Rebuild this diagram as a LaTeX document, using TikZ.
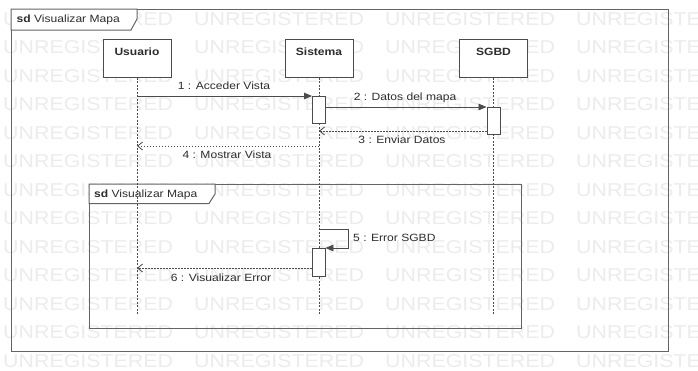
\documentclass[tikz,border=0pt]{standalone}
\usepackage{fontspec}
\setmainfont[FakeStretch=1.15]{Liberation Sans}
\usetikzlibrary{arrows.meta,calc}
\definecolor{frameln}{RGB}{100,100,100}
\definecolor{lineln}{RGB}{75,75,75}
\definecolor{txt}{RGB}{45,45,45}
\definecolor{wm}{RGB}{236,236,236}
\begin{document}
\begin{tikzpicture}[x=1pt,y=-1pt,
  lifebox/.style={draw=lineln, fill=white, line width=0.9pt, minimum width=68pt, minimum height=38pt, anchor=north, inner sep=0pt},
  actbox/.style={draw=lineln, fill=white, line width=0.9pt, minimum width=13pt, anchor=north, inner sep=0pt},
  lifeln/.style={draw=lineln, line width=0.6pt, dash pattern=on 2pt off 1.5pt},
  msg/.style={draw=lineln, line width=0.8pt, -{Triangle[length=8pt,width=6.5pt]}},
  ret/.style={draw=lineln, line width=0.8pt, dash pattern=on 1.5pt off 1.5pt, -{Straight Barb[length=5pt,width=8pt]}},
  lbl/.style={font=\fontsize{10.5}{12}\selectfont, text=txt, inner sep=0pt},
  namelbl/.style={font=\fontsize{10.5}{12}\selectfont\bfseries, text=txt, inner sep=0pt},
  framest/.style={draw=frameln, line width=1pt},
  tabst/.style={draw=frameln, fill=white, line width=1pt},
  wmtext/.style={font=\fontsize{18.6}{20}\selectfont, text=wm, anchor=west, inner sep=0pt}
]
\useasboundingbox (0,0) rectangle (698,370);
\fill[white] (0,0) rectangle (698,370);
% watermark
\begin{scope}
\clip (0,0) rectangle (698,370);
\foreach \r in {0,...,12}{
  \foreach \c in {0,...,3}{
    \node[wmtext] (wm-\r-\c) at ({3+191*\c},{19+28.5*\r}) {UNREGISTERED};
  }
}
\end{scope}
% outer frame
\draw[framest] (11,9) rectangle (668,351);
\draw[tabst] (11,9) -- (137,9) -- (137,19) -- (131,30) -- (11,30) -- cycle;
\node[lbl, anchor=west] (tab1) at (16.5,20) {\textbf{sd} Visualizar Mapa};
% inner frame
\draw[framest] (89,184) rectangle (521,328);
\draw[tabst] (89,184) -- (215,184) -- (215,194) -- (209,203.5) -- (89,203.5) -- cycle;
\node[lbl, anchor=west] (tab2) at (94,194.5) {\textbf{sd} Visualizar Mapa};
% lifelines
\coordinate (uend) at (137,314);
\coordinate (send) at (319,314);
\coordinate (gend) at (493.5,314);
\node[lifebox] (usuario) at (137,39) {};
\node[lifebox] (sistema) at (319,39) {};
\node[lifebox] (sgbd) at (493.5,39) {};
\draw[lifeln] (usuario.south) -- (uend);
\draw[lifeln] (sistema.south) -- (send);
\draw[lifeln] (sgbd.south) -- (gend);
\node[namelbl] (tu) at (137,51.5) {Usuario};
\node[namelbl] (ts) at (319,51.5) {Sistema};
\node[namelbl] (tg) at (493.5,51.5) {SGBD};
% activations
\node[actbox, minimum height=27pt] (act1) at (319,96) {};
\node[actbox, minimum height=27pt] (act3) at (493.5,107) {};
\node[actbox, minimum height=28pt] (act2) at (318.5,248) {};
% messages
\coordinate (m1s) at (137,96);
\draw[msg] (m1s) -- (act1.north west);
\node[lbl] (l1) at (224,86) {1 : Acceder Vista};
\draw[msg] (act1.east |- act3.north) -- (act3.north west);
\node[lbl] (l2) at (405,98) {2 : Datos del mapa};
\coordinate (m3e) at (319,131);
\draw[ret] (act3.west |- m3e) -- (m3e);
\node[lbl] (l3) at (402,140) {3 : Enviar Datos};
\coordinate (m4s) at (319,146);
\coordinate (m4e) at (137,146);
\draw[ret] (m4s) -- (m4e);
\node[lbl] (l4) at (227,155) {4 : Mostrar Vista};
\coordinate (m5s) at (319,229);
\coordinate (m5c) at (348,229);
\draw[msg] (m5s) -- (m5c) |- (act2.north east);
\node[lbl, anchor=west] (l5) at (353,237.5) {5 : Error SGBD};
\coordinate (m6e) at (137,268);
\draw[ret] (act2.west |- m6e) -- (m6e);
\node[lbl] (l6) at (221,277.5) {6 : Visualizar Error};
\end{tikzpicture}
\end{document}
